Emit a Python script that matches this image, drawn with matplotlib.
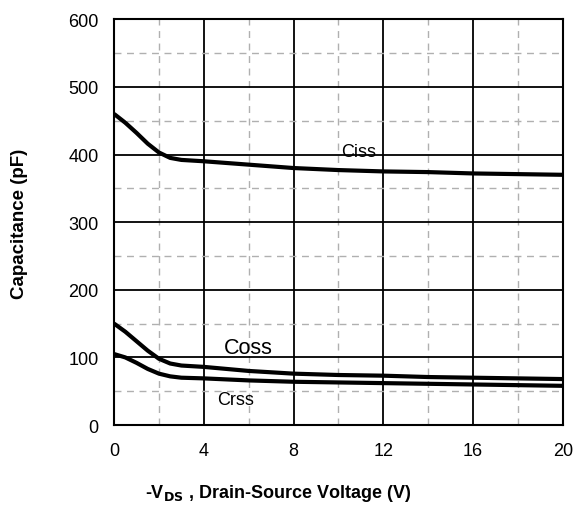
import numpy as np
import matplotlib.pyplot as plt
from matplotlib.ticker import MultipleLocator

plt.rcParams['font.family'] = ['Liberation Sans', 'DejaVu Sans']

# Ocitane vrednosti
vds = [0, 0.5, 1, 1.5, 2, 2.5, 3, 4, 6, 8, 10, 12, 14, 16, 18, 20]
ciss = [460, 447, 432, 416, 403, 395, 392, 390, 385, 380, 377, 375, 374, 372, 371, 370]
coss = [150, 138, 124, 110, 98, 91, 88, 86, 80, 76, 74, 73, 71, 70, 69, 68]
crss = [105, 100, 92, 83, 76, 72, 70, 69, 66, 64, 63, 62, 61, 60, 59, 58]

fig = plt.figure(figsize=(5.82, 5.06), dpi=100)
ax = fig.add_axes([0.196, 0.158, 0.771, 0.802])

ax.set_xlim(0, 20)
ax.set_ylim(0, 600)
ax.xaxis.set_major_locator(MultipleLocator(4))
ax.xaxis.set_minor_locator(MultipleLocator(2))
ax.yaxis.set_major_locator(MultipleLocator(100))
ax.yaxis.set_minor_locator(MultipleLocator(50))

ax.grid(which='minor', color='#b0b0b0', linestyle=(0, (5, 4)), linewidth=1.0)
ax.grid(which='major', color='black', linestyle='-', linewidth=1.3)
ax.set_axisbelow(True)
ax.tick_params(which='both', length=0, labelsize=13)
ax.tick_params(axis='y', pad=11)
ax.tick_params(axis='x', pad=12)

for s in ax.spines.values():
    s.set_linewidth(1.5)

for y in (ciss, coss, crss):
    ax.plot(vds, y, color='black', linewidth=3, solid_capstyle='butt')

ax.text(10.9, 405, 'Ciss', fontsize=13, ha='center', va='center')
ax.text(6.0, 115, 'Coss', fontsize=15.5, ha='center', va='center')
ax.text(5.4, 38, 'Crss', fontsize=13, ha='center', va='center')

fig.text(20 / 582, 1 - 224 / 506, 'Capacitance (pF)', fontsize=13.5,
         fontweight='bold', rotation=90, ha='center', va='center')
fig.text(278 / 582, 1 - 494 / 506, r'-V$_{\mathbf{DS}}$ , Drain-Source Voltage (V)',
         fontsize=13, fontweight='bold', ha='center', va='center')

fig.savefig('out.png', dpi=100)
